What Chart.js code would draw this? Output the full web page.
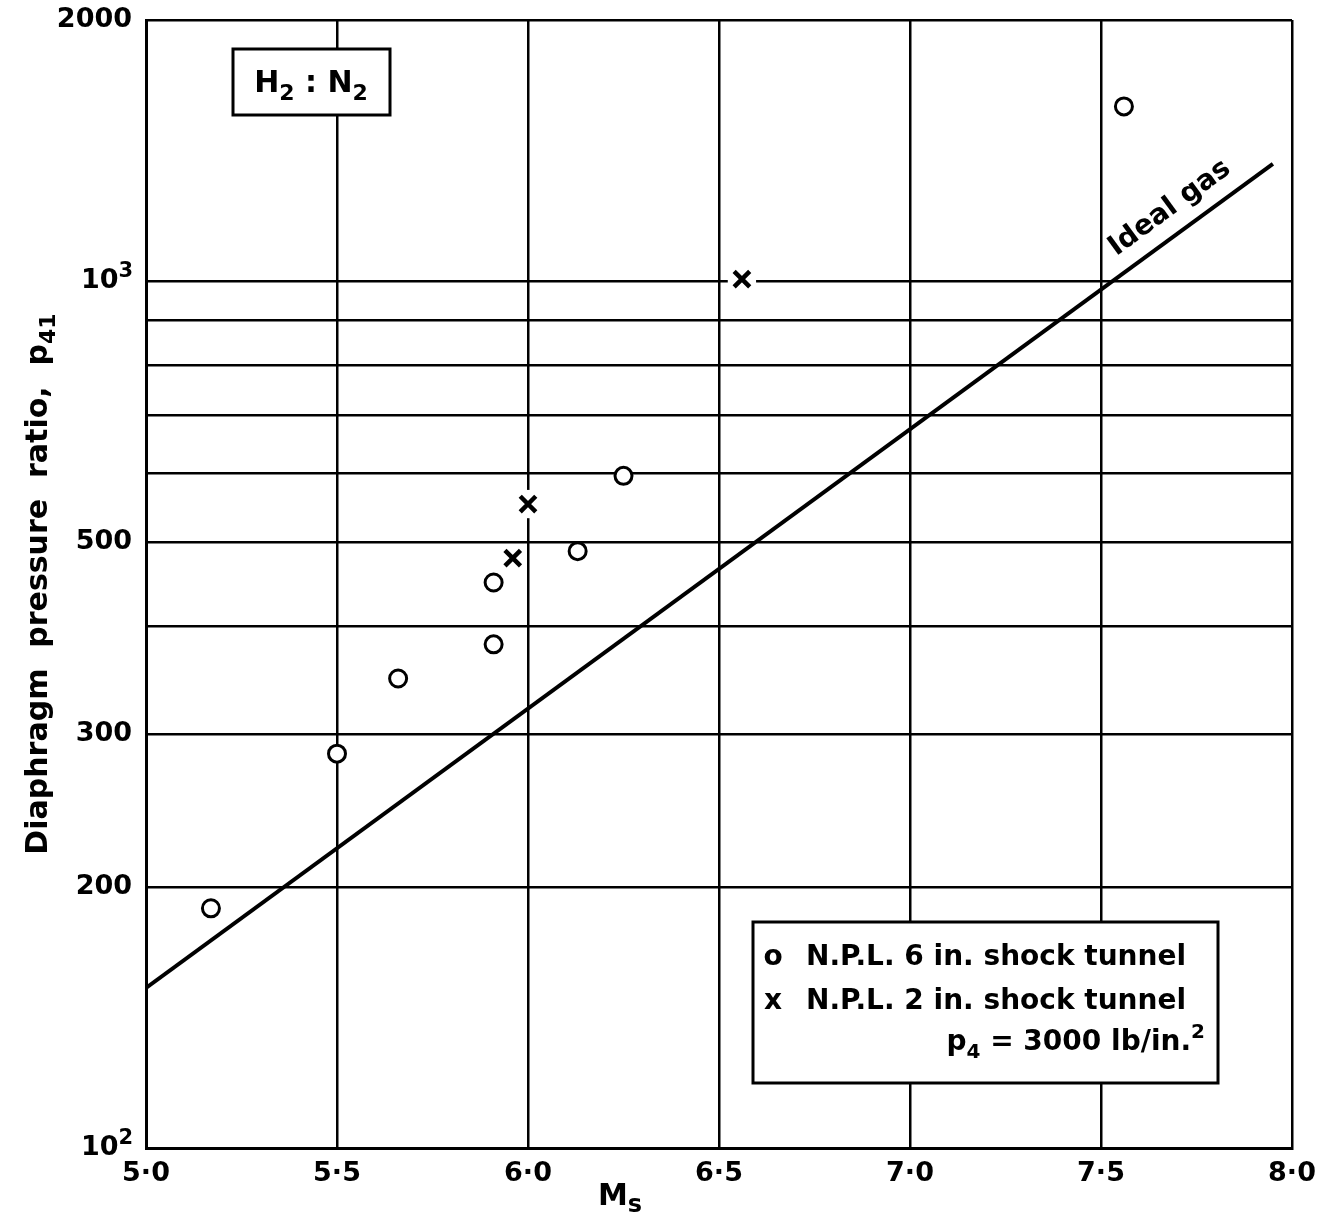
<!DOCTYPE html>
<html>
<head>
<meta charset="utf-8">
<script src="https://cdn.jsdelivr.net/npm/chart.js@4/dist/chart.umd.min.js"></script>
<style>
  html, body { margin: 0; padding: 0; background: #fff; }
  #wrap { width: 1340px; height: 1218px; }
</style>
</head>
<body>
<div id="wrap"><canvas id="chart"></canvas></div>
<script>
// N.P.L. 6 in. shock tunnel (circles)
const ms6in = [5.17, 5.50, 5.66, 5.91, 5.91, 6.13, 6.25, 7.56];
const p41_6in = [189, 285, 348, 381, 449, 488, 596, 1590];

// N.P.L. 2 in. shock tunnel (crosses)
const ms2in = [5.96, 6.00, 6.56];
const p41_2in = [479, 553, 1005];

// ideal gas line, end points
const msIdeal = [5.0, 7.95];
const p41Ideal = [153, 1365];

const xTicks = [5.0, 5.5, 6.0, 6.5, 7.0, 7.5, 8.0];
const yGrid = [100, 200, 300, 400, 500, 600, 700, 800, 900, 1000, 2000];
const yLabels = { 100: "10\u2002", 200: "200", 300: "300", 500: "500", 1000: "10\u2002", 2000: "2000" };
const yPowers = { 100: "2", 1000: "3" };

const FONT = "'DejaVu Sans', sans-serif";
const toPts = (xs, ys) => xs.map((x, i) => ({ x: x, y: ys[i] }));

// draws text pieces left to right, small pieces shifted as sub/superscripts
function drawParts(ctx, parts, x, y, align) {
  let w = 0;
  parts.forEach(p => {
    ctx.font = "bold " + p.size + "px " + FONT;
    w += ctx.measureText(p.t).width;
  });
  let cx = align === "center" ? x - w / 2 : align === "right" ? x - w : x;
  ctx.textAlign = "left";
  ctx.textBaseline = "alphabetic";
  parts.forEach(p => {
    ctx.font = "bold " + p.size + "px " + FONT;
    ctx.fillText(p.t, cx, y + (p.dy || 0));
    cx += ctx.measureText(p.t).width;
  });
}

const notes = {
  id: "notes",
  afterDatasetsDraw(chart) {
    const ctx = chart.ctx;
    const x = chart.scales.x, y = chart.scales.y;
    ctx.save();
    ctx.strokeStyle = "#000";
    ctx.fillStyle = "#000";
    ctx.lineWidth = 3;

    // powers of ten on the y labels
    ctx.font = "bold 21px " + FONT;
    ctx.textAlign = "right";
    ctx.textBaseline = "alphabetic";
    Object.keys(yPowers).forEach(k => {
      ctx.fillText(yPowers[k], 133, y.getPixelForValue(+k) - 4);
    });

    // y axis title
    ctx.save();
    ctx.translate(36, (chart.chartArea.top + chart.chartArea.bottom) / 2);
    ctx.rotate(-Math.PI / 2);
    drawParts(ctx, [
      { t: "Diaphragm  pressure  ratio,  p", size: 30 },
      { t: "41", size: 22, dy: 8 }
    ], 0, 11, "center");
    ctx.restore();

    // H2 : N2 box
    ctx.fillStyle = "#fff";
    ctx.fillRect(233, 49, 157, 66);
    ctx.strokeRect(233, 49, 157, 66);
    ctx.fillStyle = "#000";
    drawParts(ctx, [
      { t: "H", size: 30 }, { t: "2", size: 22, dy: 8 },
      { t: " : ", size: 30 },
      { t: "N", size: 30 }, { t: "2", size: 22, dy: 8 }
    ], 311, 92, "center");

    // legend box
    ctx.fillStyle = "#fff";
    ctx.fillRect(753, 922, 465, 161);
    ctx.strokeRect(753, 922, 465, 161);
    ctx.fillStyle = "#000";
    ctx.font = "bold 28px " + FONT;
    ctx.textAlign = "center";
    ctx.textBaseline = "alphabetic";
    ctx.fillText("o", 773, 965);
    ctx.fillText("x", 773, 1009);
    ctx.textAlign = "left";
    ctx.fillText("N.P.L. 6 in. shock tunnel", 806, 965);
    ctx.fillText("N.P.L. 2 in. shock tunnel", 806, 1009);
    drawParts(ctx, [
      { t: "p", size: 28 }, { t: "4", size: 20, dy: 8 },
      { t: " = 3000 lb/in.", size: 28 }, { t: "2", size: 20, dy: -12 }
    ], 1205, 1050, "right");

    // "Ideal gas" along the line
    const x0 = x.getPixelForValue(msIdeal[0]), y0 = y.getPixelForValue(p41Ideal[0]);
    const x1 = x.getPixelForValue(msIdeal[1]), y1 = y.getPixelForValue(p41Ideal[1]);
    const ang = Math.atan2(y1 - y0, x1 - x0);
    ctx.save();
    ctx.translate(1174, 214);
    ctx.rotate(ang);
    ctx.font = "bold 28px " + FONT;
    ctx.textAlign = "center";
    ctx.fillText("Ideal gas", 0, 0);
    ctx.restore();

    // x axis title Ms
    drawParts(ctx, [{ t: "M", size: 30 }, { t: "s", size: 24, dy: 7 }], 620, 1205, "center");
    ctx.restore();
  }
};

const gridStyle = { color: "#000", lineWidth: 2.5, drawTicks: false };
const borderStyle = { color: "#000", width: 3 };

const chart = new Chart(document.getElementById("chart").getContext("2d"), {
  type: "scatter",
  data: {
    datasets: [
      {
        label: "N.P.L. 6 in. shock tunnel",
        data: toPts(ms6in, p41_6in),
        pointStyle: "circle",
        pointRadius: 8.5,
        borderColor: "#000",
        backgroundColor: "#fff",
        borderWidth: 3,
        order: 1
      },
      {
        label: "N.P.L. 2 in. shock tunnel",
        data: toPts(ms2in, p41_2in),
        pointStyle: "crossRot",
        pointRadius: 11,
        borderColor: "#000",
        borderWidth: 4.5,
        order: 2
      },
      {
        // white patch behind the crosses, breaks the grid lines as in the original
        label: "mask",
        data: toPts(ms2in, p41_2in),
        pointStyle: "rect",
        pointRadius: 20,
        backgroundColor: "#fff",
        borderWidth: 0,
        order: 3
      },
      {
        label: "Ideal gas",
        type: "line",
        data: toPts(msIdeal, p41Ideal),
        borderColor: "#000",
        borderWidth: 4,
        pointRadius: 0,
        fill: false,
        order: 4
      }
    ]
  },
  options: {
    responsive: true,
    maintainAspectRatio: false,
    animation: false,
    events: [],
    layout: { padding: { top: 18, right: 48, left: 0, bottom: 0 } },
    scales: {
      x: {
        type: "linear",
        min: 5,
        max: 8,
        afterBuildTicks: s => { s.ticks = xTicks.map(v => ({ value: v })); },
        afterFit: s => { s.height = 70; s.paddingLeft = 0; s.paddingRight = 0; },
        grid: gridStyle,
        border: borderStyle,
        ticks: {
          color: "#000",
          padding: 10,
          maxRotation: 0,
          autoSkip: false,
          font: { family: FONT, size: 27, weight: "bold" },
          callback: v => v.toFixed(1).replace(".", "·")
        }
      },
      y: {
        type: "logarithmic",
        min: 100,
        max: 2000,
        afterBuildTicks: s => { s.ticks = yGrid.map(v => ({ value: v })); },
        afterFit: s => { s.width = 146; s.paddingTop = 0; s.paddingBottom = 0; },
        grid: gridStyle,
        border: borderStyle,
        ticks: {
          color: "#000",
          padding: 14,
          autoSkip: false,
          font: { family: FONT, size: 27, weight: "bold" },
          callback: v => yLabels[v] || ""
        }
      }
    },
    plugins: {
      legend: { display: false },
      tooltip: { enabled: false }
    }
  },
  plugins: [notes]
});
</script>
</body>
</html>
